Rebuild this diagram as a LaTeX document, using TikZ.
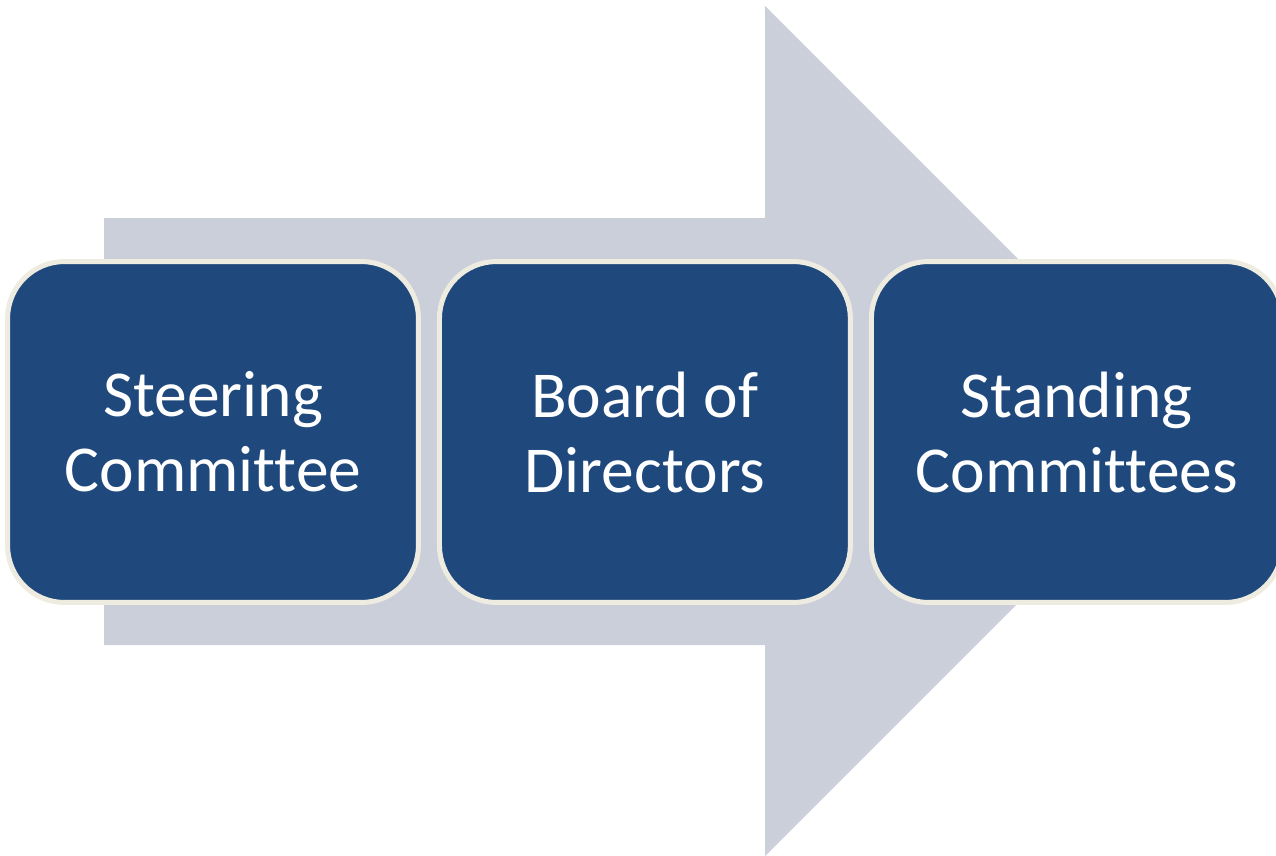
\documentclass[tikz,border=0pt]{standalone}
\usepackage{fontspec}
\setmainfont[Ligatures=NoCommon]{Carlito}
\usetikzlibrary{positioning}
\definecolor{stageblue}{HTML}{1F497D}
\definecolor{stagerim}{HTML}{EEECE1}
\definecolor{flowgray}{HTML}{CBCFDA}
\tikzset{
  stage/.style={draw=stagerim, fill=stageblue, line width=0.1cm, rounded corners=1.14cm,
    minimum width=8.22cm, minimum height=6.82cm, text=white, align=center,
    font=\fontsize{37.3}{42.7}\selectfont}
}
\begin{document}
\begin{tikzpicture}[x=0.02cm, y=-0.02cm]
  \useasboundingbox (0,0) rectangle (1276,856);
  % big flow arrow behind the stages
  \fill[flowgray] (104,218) -- (765,218) -- (765,6) -- (1190,431) -- (765,856) -- (765,645) -- (104,645) -- cycle;
  \node[stage] (steer) at (213,432) {Steering\\Committee};
  \node[stage, right=0.32cm of steer] (board) {Board of\\Directors};
  \node[stage, right=0.32cm of board] (standing) {Standing\\Committees};
\end{tikzpicture}
\end{document}
